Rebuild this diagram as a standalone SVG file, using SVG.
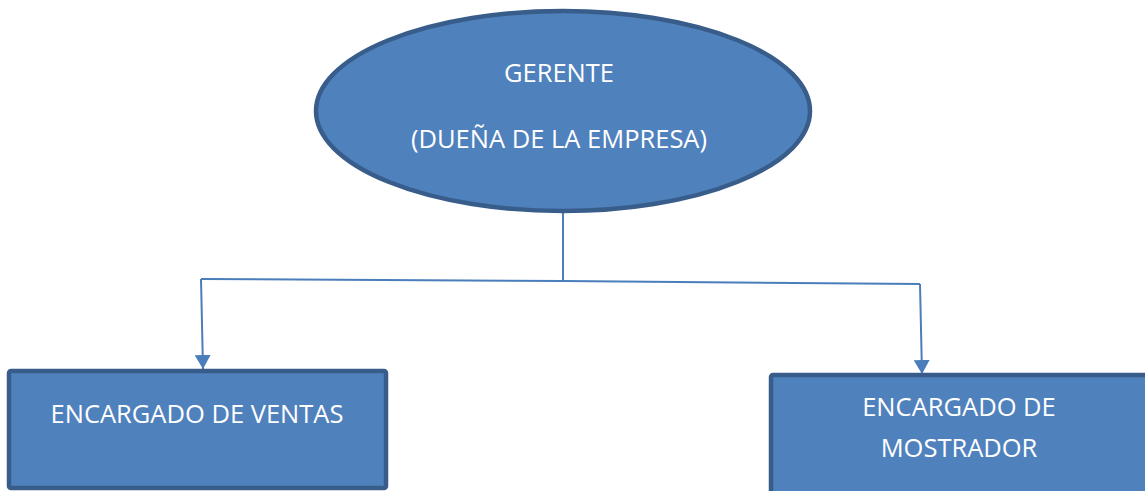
<svg xmlns="http://www.w3.org/2000/svg" width="1145" height="491" viewBox="0 0 1145 491">
<style>
.shape{fill:#4F81BD;stroke:#385D8A;stroke-width:4.5}
.lbl{font-family:"Open Sans","Liberation Sans",sans-serif;font-size:25.5px;fill:#FFFFFF;text-anchor:middle}
.conn{fill:none;stroke:#4A7EBB;stroke-width:2}
</style>
<defs>
<marker id="arr" viewBox="0 0 14 16" refX="14" refY="8" markerWidth="14" markerHeight="16" markerUnits="userSpaceOnUse" orient="auto">
<path d="M0,0 L14,8 L0,16 Z" fill="#4A7EBB"/>
</marker>
</defs>
<rect width="1145" height="491" fill="#FFFFFF"/>
<g id="connectors">
<polyline class="conn" points="563,212 563,281 201,279"/>
<polyline class="conn" points="563,281 920,284"/>
<line class="conn" x1="201" y1="279" x2="203" y2="369" marker-end="url(#arr)"/>
<line class="conn" x1="920" y1="284" x2="922" y2="374" marker-end="url(#arr)"/>
</g>
<g id="gerente">
<ellipse class="shape" cx="563" cy="111" rx="247" ry="100"/>
<text class="lbl" x="559" y="82">GERENTE</text>
<text class="lbl" x="559" y="148">(DUEÑA DE LA EMPRESA)</text>
</g>
<g id="ventas">
<rect class="shape" x="9" y="371" width="377" height="117" rx="2"/>
<text class="lbl" x="197" y="423">ENCARGADO DE VENTAS</text>
</g>
<g id="mostrador">
<rect class="shape" x="771" y="375" width="380" height="130" rx="2"/>
<text class="lbl" x="959" y="416">ENCARGADO DE</text>
<text class="lbl" x="959" y="457">MOSTRADOR</text>
</g>
</svg>
